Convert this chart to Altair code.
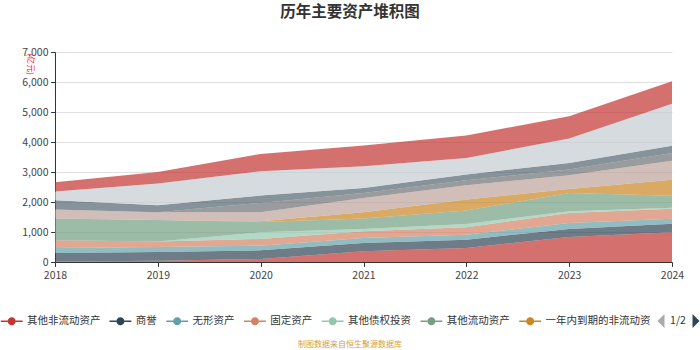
import altair as alt
import pandas as pd

FONT = "Noto Sans CJK SC"

title_text = "历年主要资产堆积图"
unit_text = "(亿元)"
footer_text = "制图数据来自恒生聚源数据库"
pager_text = "1/2"

years = [2018, 2019, 2020, 2021, 2022, 2023, 2024]
y_ticks = [0, 1000, 2000, 3000, 4000, 5000, 6000, 7000]

series_names = [
    "其他非流动资产", "商誉", "无形资产", "固定资产", "其他债权投资", "其他流动资产",
    "一年内到期的非流动资产", "长期股权投资", "在建工程", "应收账款", "货币资金", "交易性金融资产",
]
colors = [
    "#c23531", "#2f4554", "#61a0a8", "#d48265", "#91c7ae", "#749f83",
    "#ca8622", "#bda29a", "#6e7074", "#546570", "#c4ccd3", "#c23531",
]

v_other_noncurrent = [20, 45, 100, 356, 467, 834, 989]
v_goodwill = [280, 289, 290, 278, 278, 267, 289]
v_intangible = [167, 166, 155, 166, 167, 200, 166]
v_fixed = [256, 180, 222, 223, 245, 334, 334]
v_other_debt = [0, 0, 223, 77, 111, 55, 33]
v_other_current = [723, 720, 345, 346, 445, 612, 400]
v_due_within_year = [0, 0, 22, 211, 367, 134, 533]
v_lt_equity = [300, 257, 300, 479, 478, 456, 634]
v_construction = [0, 0, 312, 166, 167, 189, 255]
v_receivable = [312, 233, 244, 167, 189, 222, 245]
v_cash = [289, 724, 812, 723, 556, 812, 1400]
v_trading = [311, 389, 579, 690, 746, 745, 744]

series_values = [
    v_other_noncurrent, v_goodwill, v_intangible, v_fixed, v_other_debt, v_other_current,
    v_due_within_year, v_lt_equity, v_construction, v_receivable, v_cash, v_trading,
]

rows = []
for i, (name, vals) in enumerate(zip(series_names, series_values)):
    for yr, v in zip(years, vals):
        rows.append({"year": yr, "series": name, "value": v, "order": i})
df = pd.DataFrame(rows)

legend_symbol = (
    "M-1,-0.07 L-0.37,-0.07 L-0.37,0.07 L-1,0.07 Z "
    "M0.37,-0.07 L1,-0.07 L1,0.07 L0.37,0.07 Z "
    "M-0.37,0 A0.37,0.37 0 1,0 0.37,0 A0.37,0.37 0 1,0 -0.37,0 Z"
)

area = alt.Chart(df).mark_area(opacity=0.7, interpolate="linear").encode(
    x=alt.X(
        "year:Q",
        scale=alt.Scale(domain=[years[0], years[-1]], nice=False, zero=False),
        axis=alt.Axis(
            values=years, format="d", title=None, grid=False, labelAngle=0, labelFlush=False,
            labelFont=FONT, labelFontSize=10.5, labelColor="#444",
            tickSize=4.4, tickColor="#333", domainColor="#333", labelPadding=4,
        ),
    ),
    y=alt.Y(
        "value:Q",
        stack="zero",
        scale=alt.Scale(domain=[y_ticks[0], y_ticks[-1]], nice=False),
        axis=alt.Axis(
            values=y_ticks, format=",.0f", title=unit_text, labelFlush=False,
            titleAngle=90, titleX=-26, titleY=1, titleAlign="left", titleBaseline="middle",
            titleColor="#ff0000", titleFontSize=8, titleFontWeight="normal", titleFont=FONT,
            labelFont=FONT, labelFontSize=10.5, labelColor="#444",
            tickSize=4.4, tickColor="#333", domainColor="#333", labelPadding=2.6,
            grid=True, gridColor="#e0e0e0", gridWidth=1,
        ),
    ),
    color=alt.Color(
        "series:N",
        scale=alt.Scale(domain=series_names, range=colors),
        legend=alt.Legend(
            orient="none", legendX=-54.3, legendY=258, direction="horizontal",
            values=series_names[:7], title=None,
            symbolType=legend_symbol, symbolSize=480, symbolOpacity=1, symbolStrokeWidth=0,
            labelFont=FONT, labelFontSize=10.5, labelColor="#333", labelOffset=4.4,
            columnPadding=8.75, padding=0, labelExpr="slice(datum.label, 0, 10)", labelLimit=300,
        ),
    ),
    order=alt.Order("order:Q", sort="ascending"),
)

title = alt.Chart(pd.DataFrame({"t": [title_text]})).mark_text(
    font=FONT, fontSize=15.5, fontWeight="bold", color="#333", align="center", baseline="middle"
).encode(text="t:N", x=alt.value(295), y=alt.value(-40))

footer = alt.Chart(pd.DataFrame({"t": [footer_text]})).mark_text(
    font=FONT, fontSize=8, color="#d4a03c", align="center", baseline="middle"
).encode(text="t:N", x=alt.value(295), y=alt.value(293))

pager = alt.Chart(pd.DataFrame({"t": [pager_text]})).mark_text(
    font=FONT, fontSize=10.5, color="#333", align="center", baseline="middle"
).encode(text="t:N", x=alt.value(623), y=alt.value(269))

tri_left = alt.Chart(pd.DataFrame({"k": ["prev"]})).mark_point(
    shape="M0.5,-1 L0.5,1 L-0.5,0 Z", filled=True, size=196, color="#aaaaaa", opacity=1
).encode(x=alt.value(606), y=alt.value(269))

tri_right = alt.Chart(pd.DataFrame({"k": ["next"]})).mark_point(
    shape="M-0.5,-1 L-0.5,1 L0.5,0 Z", filled=True, size=196, color="#2f4554", opacity=1
).encode(x=alt.value(641), y=alt.value(269))

chart = alt.layer(area, title, footer, pager, tri_left, tri_right).properties(
    width=617, height=210,
    autosize=alt.AutoSizeParams(type="none"),
    padding={"left": 55, "top": 52, "right": 28, "bottom": 88},
).configure_view(stroke=None)

chart.save("out.html", embed_options={"renderer": "svg", "actions": False})
